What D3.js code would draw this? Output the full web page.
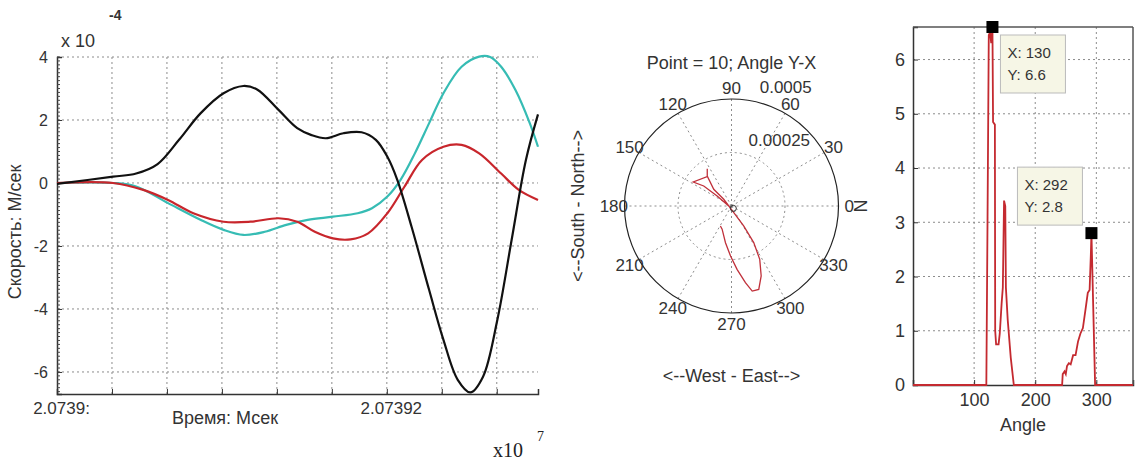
<!DOCTYPE html>
<html>
<head>
<meta charset="utf-8">
<script src="https://cdn.jsdelivr.net/npm/d3@7"></script>
<style>
  body { margin: 0; background: #fff; }
  svg { display: block; font-family: Arial, "Liberation Sans", sans-serif; }
  .tick-label { fill: #333; }
  .grid { stroke: #8c8c8c; stroke-width: 1; stroke-dasharray: 2,3; fill: none; }
</style>
</head>
<body>
<script>
// ---- left chart: velocity traces (values x 1e-4) ----
var timeTicks = [0, 1, 2, 3, 4, 5, 6, 7, 8];
var timeTickLabels = ['2.0739:', '', '', '', '', '', '2.07392', '', ''];
var velTicks = [4, 2, 0, -2, -4, -6];

var blackT = [0, 1.02, 1.44, 1.83, 2.22, 2.61, 3.03, 3.39, 3.64, 4.03, 4.37, 4.63, 4.89, 5.21, 5.54, 5.8, 6.01, 6.19, 6.45, 6.77, 7.03, 7.29, 7.52, 7.75, 8.01, 8.27, 8.53, 8.75];
var blackV = [-0.03, 0.2, 0.3, 0.6, 1.37, 2.21, 2.85, 3.08, 2.97, 2.32, 1.74, 1.52, 1.42, 1.58, 1.61, 1.37, 0.83, 0.1, -1.39, -3.4, -4.98, -6.25, -6.65, -6.15, -4.35, -1.81, 0.73, 2.18];

var cyanT = [0, 1.02, 1.44, 2.02, 2.61, 3.03, 3.39, 3.78, 4.17, 4.56, 5.02, 5.47, 5.73, 6.01, 6.25, 6.51, 6.77, 7.03, 7.36, 7.68, 7.88, 8.08, 8.34, 8.6, 8.75];
var cyanV = [0, 0, -0.11, -0.64, -1.17, -1.49, -1.65, -1.55, -1.33, -1.17, -1.07, -0.96, -0.8, -0.43, 0.1, 0.94, 1.9, 2.85, 3.69, 4.01, 4.0, 3.69, 2.95, 1.9, 1.15];

var redT = [0, 1.02, 1.57, 2.02, 2.48, 3.03, 3.52, 4.03, 4.37, 4.69, 5.02, 5.34, 5.66, 6.01, 6.32, 6.64, 7.03, 7.36, 7.68, 8.08, 8.4, 8.75];
var redV = [0, 0, -0.22, -0.54, -0.96, -1.23, -1.23, -1.12, -1.23, -1.55, -1.76, -1.79, -1.6, -0.96, -0.12, 0.73, 1.15, 1.21, 0.94, 0.3, -0.22, -0.54];

// ---- middle chart: polar hodogram (angle deg, radius x 1e-4) ----
var polarAngles = [241, 248, 260.7, 268.9, 275, 280.3, 283.7, 288.1, 293, 297.9, 301.3, 301.6, 289, 139, 136.7, 129, 123, 129.5, 147.9, 144.2, 145, 180];
var polarRadii = [1.07, 1.17, 1.74, 2.34, 2.97, 3.64, 4.09, 4.10, 3.55, 2.82, 2.0, 1.10, 0.33, 0.48, 1.14, 1.80, 2.08, 1.78, 2.11, 1.60, 0.82, 0.13];
var spokeAngles = [0, 30, 60, 90, 120, 150, 180, 210, 240, 270, 300, 330];
var ringValues = [0.00025, 0.0005];
var ringLabels = ['0.00025', '0.0005'];

// ---- right chart: angle distribution ----
var angleX = [0, 120, 122, 124, 126, 128, 130, 131, 134, 134.5, 136, 140, 142, 145, 147, 149, 151, 152, 155, 160, 165, 244, 245, 248, 250, 252, 255, 258, 262, 266, 270, 274, 278, 283, 286, 289, 291, 292, 298, 360];
var angleN = [0, 0, 3.1, 6.45, 6.5, 6.3, 6.6, 4.85, 4.8, 1.0, 0.75, 0.75, 0.95, 1.5, 1.8, 3.4, 3.3, 1.8, 1.2, 0.5, 0, 0, 0.2, 0.25, 0.2, 0.35, 0.4, 0.38, 0.55, 0.55, 0.8, 0.95, 1.05, 1.45, 1.7, 1.75, 2.4, 2.8, 0, 0];
var angleTicks = [100, 200, 300];
var countTicks = [0, 1, 2, 3, 4, 5, 6];
var tipX = [130, 292];
var tipY = [6.6, 2.8];

var W = 1136, H = 461;
var svg = d3.select('body').append('svg').attr('width', W).attr('height', H);
var fmtInt = function(d) {return String(d);}; // plain hyphen minus like the original

// ================= left chart =================
var x1 = d3.scaleLinear().domain([0, 8.75]).range([57, 538]);
var y1 = d3.scaleLinear().domain([-6.7, 4]).range([394, 57]);
var g1 = svg.append('g');

g1.selectAll('.hgrid').data(velTicks).enter().append('line')
  .attr('class', 'grid')
  .attr('x1', x1(0)).attr('x2', x1(8.75))
  .attr('y1', function(d) {return y1(d);}).attr('y2', function(d) {return y1(d);});
g1.selectAll('.vgrid').data(timeTicks.slice(1)).enter().append('line')
  .attr('class', 'grid')
  .attr('x1', function(d) {return x1(d);}).attr('x2', function(d) {return x1(d);})
  .attr('y1', y1(4)).attr('y2', y1(-6.7));

var yAxis1 = d3.axisLeft(y1).tickValues(velTicks).tickSize(-5).tickPadding(9).tickFormat(fmtInt);
var yAx = g1.append('g').attr('transform', 'translate(57,0)').call(yAxis1);
yAx.select('.domain').attr('stroke', '#333').attr('stroke-width', 1.5);
// minor ticks
yAx.selectAll('.minor').data(d3.range(-6.625, 4.01, 0.125)).enter().append('line')
  .attr('x1', 0).attr('x2', 3)
  .attr('y1', function(d) {return y1(d);}).attr('y2', function(d) {return y1(d);})
  .attr('stroke', '#444');

var xAxis1 = d3.axisBottom(x1).tickValues(timeTicks).tickSize(-5).tickPadding(8)
  .tickFormat(function(d, i) {return timeTickLabels[i];});
var xAx = g1.append('g').attr('transform', 'translate(0,394)').call(xAxis1);
xAx.select('.domain').attr('stroke', '#333').attr('stroke-width', 1.5);

[yAx, xAx].forEach(function(a) {
  a.selectAll('.tick line').attr('stroke', '#333');
  a.selectAll('text').attr('class', 'tick-label').attr('font-size', 16).attr('font-family', 'Arial, "Liberation Sans", sans-serif');
});
xAx.selectAll('text').attr('dx', 4).attr('font-size', 17);

var line1 = d3.line().curve(d3.curveCatmullRom.alpha(0.5))
  .x(function(d) {return x1(d[0]);}).y(function(d) {return y1(d[1]);});

var traces = [
  {t: cyanT, v: cyanV, color: '#36bcb4'},
  {t: redT, v: redV, color: '#c8262c'},
  {t: blackT, v: blackV, color: '#111'}
];
traces.forEach(function(s) {
  g1.append('path')
    .datum(d3.zip(s.t, s.v))
    .attr('d', line1)
    .attr('fill', 'none')
    .attr('stroke', s.color)
    .attr('stroke-width', 2.2);
});

g1.append('text').text('x 10').attr('x', 61).attr('y', 47).attr('font-size', 18).attr('fill', '#333');
g1.append('text').text('-4').attr('x', 109).attr('y', 20).attr('font-size', 14).attr('font-weight', 'bold').attr('fill', '#333');
g1.append('text').text('Скорость: М/сек')
  .attr('transform', 'translate(21,232) rotate(-90)')
  .attr('text-anchor', 'middle').attr('font-size', 18).attr('fill', '#333');
g1.append('text').text('Время: Мсек').attr('x', 225).attr('y', 424)
  .attr('text-anchor', 'middle').attr('font-size', 18).attr('fill', '#333');
g1.append('text').text('x10').attr('x', 493).attr('y', 457)
  .attr('font-size', 20).attr('font-family', '"Liberation Serif", serif').attr('fill', '#222');
g1.append('text').text('7').attr('x', 537).attr('y', 441)
  .attr('font-size', 14).attr('font-family', '"Liberation Serif", serif').attr('fill', '#222');

// ================= polar chart =================
var cx = 731.5, cy = 206, R = 107;
var rScale = d3.scaleLinear().domain([0, 0.0005]).range([0, R]);
var g2 = svg.append('g').attr('transform', 'translate(' + cx + ',' + cy + ')');
function px(a, r) {return Math.cos(a * Math.PI / 180) * r;}
function py(a, r) {return -Math.sin(a * Math.PI / 180) * r;}

g2.selectAll('.spoke').data(spokeAngles).enter().append('line')
  .attr('class', 'grid')
  .attr('x1', 0).attr('y1', 0)
  .attr('x2', function(d) {return px(d, R);})
  .attr('y2', function(d) {return py(d, R);});
g2.append('circle').attr('r', rScale(ringValues[0])).attr('class', 'grid');
g2.append('circle').attr('r', rScale(ringValues[1])).attr('fill', 'none').attr('stroke', '#222').attr('stroke-width', 1.2);

g2.selectAll('.alabel').data(spokeAngles).enter().append('text')
  .text(function(d) {return d;})
  .attr('x', function(d) {return px(d, R * 1.1);})
  .attr('y', function(d) {return py(d, R * 1.1);})
  .attr('dy', '0.36em')
  .attr('text-anchor', 'middle')
  .attr('font-size', 17).attr('fill', '#333');

g2.selectAll('.rlabel').data(ringValues).enter().append('text')
  .text(function(d, i) {return ringLabels[i];})
  .attr('x', function(d) {return px(78, rScale(d)) + 6;})
  .attr('y', function(d) {return py(78, rScale(d)) - 8;})
  .attr('font-size', 17).attr('fill', '#333');

var polarLine = d3.line()
  .x(function(d) {return px(d[0], rScale(d[1] * 1e-4));})
  .y(function(d) {return py(d[0], rScale(d[1] * 1e-4));});
g2.append('path')
  .datum(d3.zip(polarAngles, polarRadii))
  .attr('d', polarLine)
  .attr('fill', 'none').attr('stroke', '#c0303a').attr('stroke-width', 1.3);
g2.append('circle').attr('cx', px(-52, rScale(0.14e-4))).attr('cy', py(-52, rScale(0.14e-4)))
  .attr('r', 3).attr('fill', 'none').attr('stroke', '#333');

svg.append('text').text('Point = 10; Angle Y-X').attr('x', cx).attr('y', 69)
  .attr('text-anchor', 'middle').attr('font-size', 18).attr('fill', '#333');
svg.append('text').text('<--West - East-->').attr('x', cx).attr('y', 382)
  .attr('text-anchor', 'middle').attr('font-size', 18).attr('fill', '#333');
svg.append('text').text('<--South - North-->')
  .attr('transform', 'translate(584,' + cy + ') rotate(-90)')
  .attr('text-anchor', 'middle').attr('font-size', 18).attr('fill', '#333');

// ================= right chart =================
var x3 = d3.scaleLinear().domain([0, 360]).range([913, 1133]);
var y3 = d3.scaleLinear().domain([0, 6.6]).range([385, 27]);
var g3 = svg.append('g');

g3.selectAll('.hgrid').data(countTicks.slice(1)).enter().append('line')
  .attr('class', 'grid')
  .attr('x1', x3(0)).attr('x2', x3(360))
  .attr('y1', function(d) {return y3(d);}).attr('y2', function(d) {return y3(d);});
g3.selectAll('.vgrid').data(angleTicks).enter().append('line')
  .attr('class', 'grid')
  .attr('x1', function(d) {return x3(d);}).attr('x2', function(d) {return x3(d);})
  .attr('y1', y3(6.6)).attr('y2', y3(0));

var yAx3 = g3.append('g').attr('transform', 'translate(913,0)')
  .call(d3.axisLeft(y3).tickValues(countTicks).tickSize(-5).tickPadding(8).tickFormat(fmtInt));
var xAx3 = g3.append('g').attr('transform', 'translate(0,385)')
  .call(d3.axisBottom(x3).tickValues(angleTicks).tickSize(-5).tickPadding(8).tickFormat(fmtInt));
[yAx3, xAx3].forEach(function(a) {
  a.select('.domain').attr('stroke', '#333').attr('stroke-width', 1.5);
  a.selectAll('.tick line').attr('stroke', '#333');
  a.selectAll('text').attr('class', 'tick-label').attr('font-size', 18).attr('font-family', 'Arial, "Liberation Sans", sans-serif');
});
// top & right box lines
g3.append('line').attr('x1', x3(0)).attr('x2', x3(360)).attr('y1', y3(6.6)).attr('y2', y3(6.6))
  .attr('stroke', '#555').attr('stroke-width', 1.5);
g3.append('line').attr('x1', x3(360)).attr('x2', x3(360)).attr('y1', y3(6.6)).attr('y2', y3(0))
  .attr('stroke', '#555').attr('stroke-width', 1.5);

var line3 = d3.line().x(function(d) {return x3(d[0]);}).y(function(d) {return y3(d[1]);});
g3.append('path')
  .datum(d3.zip(angleX, angleN))
  .attr('d', line3)
  .attr('fill', 'none').attr('stroke', '#c42a30').attr('stroke-width', 1.8);

g3.append('text').text('Angle').attr('x', x3(180)).attr('y', 431)
  .attr('text-anchor', 'middle').attr('font-size', 18).attr('fill', '#333');
g3.append('text').text('N')
  .attr('transform', 'translate(867,' + y3(3.3) + ') rotate(-90)')
  .attr('text-anchor', 'middle').attr('font-size', 18).attr('fill', '#333');

// data tips
var tipBoxes = [{dx: 8, dy: 8}, {dx: -74, dy: -66}];
tipX.forEach(function(tx, i) {
  var mx = x3(tx), my = y3(tipY[i]);
  var bx = mx + tipBoxes[i].dx, by = my + tipBoxes[i].dy;
  g3.append('rect').attr('x', bx).attr('y', by).attr('width', 65).attr('height', 58)
    .attr('fill', '#f6f6e6').attr('stroke', '#bbb').attr('stroke-width', 1);
  g3.append('text').text('X: ' + tx).attr('x', bx + 7).attr('y', by + 23)
    .attr('font-size', 15).attr('fill', '#333');
  g3.append('text').text('Y: ' + tipY[i]).attr('x', bx + 7).attr('y', by + 45)
    .attr('font-size', 15).attr('fill', '#333');
  g3.append('rect').attr('x', mx - 6).attr('y', my - 6).attr('width', 12).attr('height', 12)
    .attr('fill', '#000');
});
</script>
</body>
</html>
